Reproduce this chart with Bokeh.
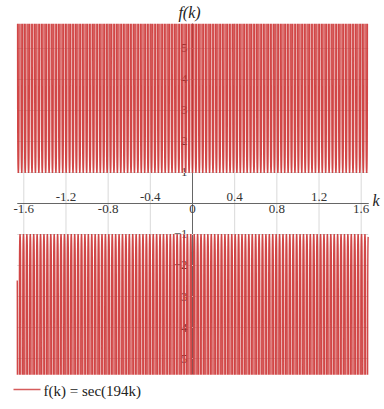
import numpy as np
from bokeh.plotting import figure
from bokeh.models import LinearAxis, FixedTicker
from bokeh.core.properties import value
from bokeh.embed import file_html
from bokeh.resources import INLINE

# function f(k) = sec(coef * k) on the plotted domain
coef = 194
k_min, k_max = -1.662, 1.666
y_lo, y_hi = -5.526, 5.80          # visible value window of the curve

x_ticks_below = [-1.6, -0.8, 0.0, 0.8, 1.6]
x_labels_below = ["-1.6", "-0.8", "0", "0.8", "1.6"]
x_ticks_above = [-1.2, -0.4, 0.4, 1.2]
x_labels_above = ["-1.2", "-0.4", "0.4", "1.2"]
x_grid = [-1.6, -1.2, -0.8, -0.4, 0.4, 0.8, 1.2, 1.6]
y_ticks = [-5, -4, -3, -2, -1, 1, 2, 3, 4, 5]
title_text = "f(k)"
axis_name = "k"
legend_text = "f(k) = sec(194k)"

W, H = 384, 409
x_lo, x_hi = -1.821, 1.821
Y_BOT, Y_TOP = -6.645, 6.548


def px2x(px):
    return x_lo + px / W * (x_hi - x_lo)


def py2y(py):
    return Y_TOP - py / H * (Y_TOP - Y_BOT)


# curve: each branch of sec between the window limits
th_lo, th_hi = coef * k_min, coef * k_max
xs, ys = [], []
for m in range(int(np.floor(th_lo / np.pi)), int(np.ceil(th_hi / np.pi)) + 1):
    lim = y_hi if m % 2 == 0 else -y_lo
    w = np.arccos(1.0 / lim)
    a, b = max(m * np.pi - w, th_lo), min(m * np.pi + w, th_hi)
    if a >= b:
        continue
    th = np.linspace(a, b, 61)
    xs.extend(th / coef)
    ys.extend(1.0 / np.cos(th))
    xs.append(np.nan)
    ys.append(np.nan)

RED = "#cc3333"
GRID = "#d9d9d9"
AX = "#666666"
FONT = "Liberation Serif"

p = figure(width=W, height=H, x_range=(x_lo, x_hi), y_range=(Y_BOT, Y_TOP),
           x_axis_type=None, y_axis_type=None, output_backend="svg",
           toolbar_location=None, min_border=0)
p.outline_line_color = None
p.background_fill_color = "white"

# grid
p.segment(x0=x_grid, x1=x_grid, y0=y_lo, y1=y_hi, line_color=GRID, line_width=1)
p.segment(x0=k_min, x1=k_max, y0=y_ticks, y1=y_ticks, line_color=GRID, line_width=1)

yax = LinearAxis(fixed_location=0, ticker=FixedTicker(ticks=y_ticks), bounds=(y_lo, y_hi),
                 major_label_text_font=FONT, major_label_text_font_size="13px",
                 major_label_text_color="#444444", major_tick_out=3, major_tick_in=0,
                 major_label_standoff=2, minor_tick_line_color=None,
                 axis_line_color=AX, major_tick_line_color=AX, level="underlay")
p.add_layout(yax, "left")

r = p.line(xs, ys, line_color=RED, line_width=1.4, line_alpha=0.9)

common = dict(fixed_location=0, major_label_text_font=FONT, major_label_text_font_size="13px",
              major_label_text_color="#333333", major_tick_out=0, major_tick_in=0,
              major_label_standoff=2, minor_tick_line_color=None,
              axis_line_color=AX, bounds=(k_min, k_max))
xb = LinearAxis(ticker=FixedTicker(ticks=x_ticks_below),
                major_label_overrides=dict(zip(x_ticks_below, x_labels_below)), **common)
xa = LinearAxis(ticker=FixedTicker(ticks=x_ticks_above),
                major_label_overrides=dict(zip(x_ticks_above, x_labels_above)), **common)
p.add_layout(xb, "below")
p.add_layout(xa, "above")

# axis name, title
p.text(x=[px2x(372)], y=[py2y(200)], text=[axis_name], text_font=value(FONT),
       text_font_style="italic", text_font_size="16px", text_color="#222222",
       text_align="left", text_baseline="alphabetic")
p.text(x=[px2x(189)], y=[py2y(12)], text=[title_text], text_font=value(FONT),
       text_font_style="italic", text_font_size="16px", text_color="#222222",
       text_align="center", text_baseline="alphabetic")

# legend
p.segment(x0=[px2x(13)], x1=[px2x(40)], y0=[py2y(389)], y1=[py2y(389)],
          line_color=RED, line_width=1.4, line_alpha=0.8)
p.text(x=[px2x(43)], y=[py2y(390)], text=[legend_text], text_font=value(FONT),
       text_font_size="15px", text_color="#222222",
       text_align="left", text_baseline="alphabetic")

open("out.html", "w").write(file_html(p, INLINE))
